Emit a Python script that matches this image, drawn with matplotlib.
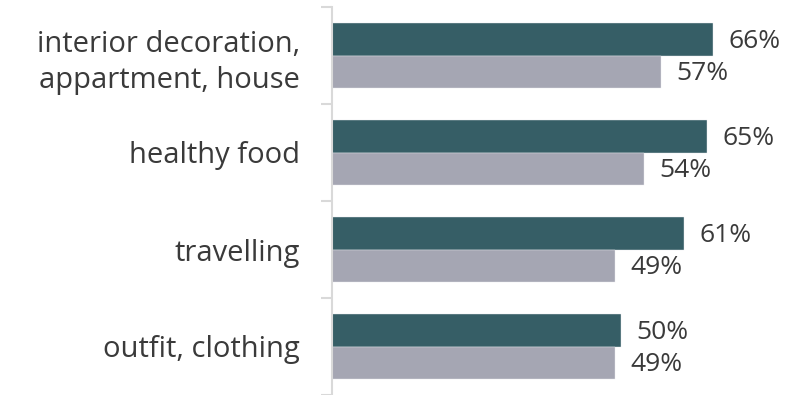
import matplotlib.pyplot as plt
import numpy as np

categories = ["interior decoration,\nappartment, house", "healthy food", "travelling", "outfit, clothing"]
series_a = [66, 65, 61, 50]
series_b = [57, 54, 49, 49]

plt.rcParams['font.family'] = ['Open Sans', 'DejaVu Sans']

W, H = 805, 395
fig = plt.figure(figsize=(W / 100, H / 100), dpi=100)
ax = fig.add_axes([332 / W, 0, (W - 332) / W, (395 - 7) / H])

y = np.arange(len(categories))
h = 0.335
teal = "#365e66"
grey = "#a5a6b3"
ax.barh(y - h / 2, series_a, height=h, color=teal, edgecolor="#e8e8ec", linewidth=0.3)
ax.barh(y + h / 2, series_b, height=h, color=grey, edgecolor="#e8e8ec", linewidth=0.3)

for i in range(len(categories)):
    ax.text(series_a[i] + 2.7, y[i] - h / 2 + 0.02, f"{series_a[i]}%", va="center", ha="left",
            fontsize=19, color="#3a3a3a")
    ax.text(series_b[i] + 2.7, y[i] + h / 2 + 0.02, f"{series_b[i]}%", va="center", ha="left",
            fontsize=19, color="#3a3a3a")

ax.set_xlim(0, (W - 332) / 5.77)
ax.set_ylim(len(categories) - 0.5, -0.5)
ax.set_yticks(y)
ax.set_yticklabels(categories, fontsize=21, color="#3a3a3a", linespacing=1.3)
ax.tick_params(axis="y", which="major", length=0, pad=23)
ax.set_yticks(np.arange(len(categories) + 1) - 0.5, minor=True)
ax.tick_params(axis="y", which="minor", length=8, width=1.5, color="#d9d9d9")
ax.set_xticks([])
for s in ["top", "right", "bottom"]:
    ax.spines[s].set_visible(False)
ax.spines["left"].set_color("#d9d9d9")
ax.spines["left"].set_linewidth(1.5)

fig.savefig("out.png", dpi=100)
